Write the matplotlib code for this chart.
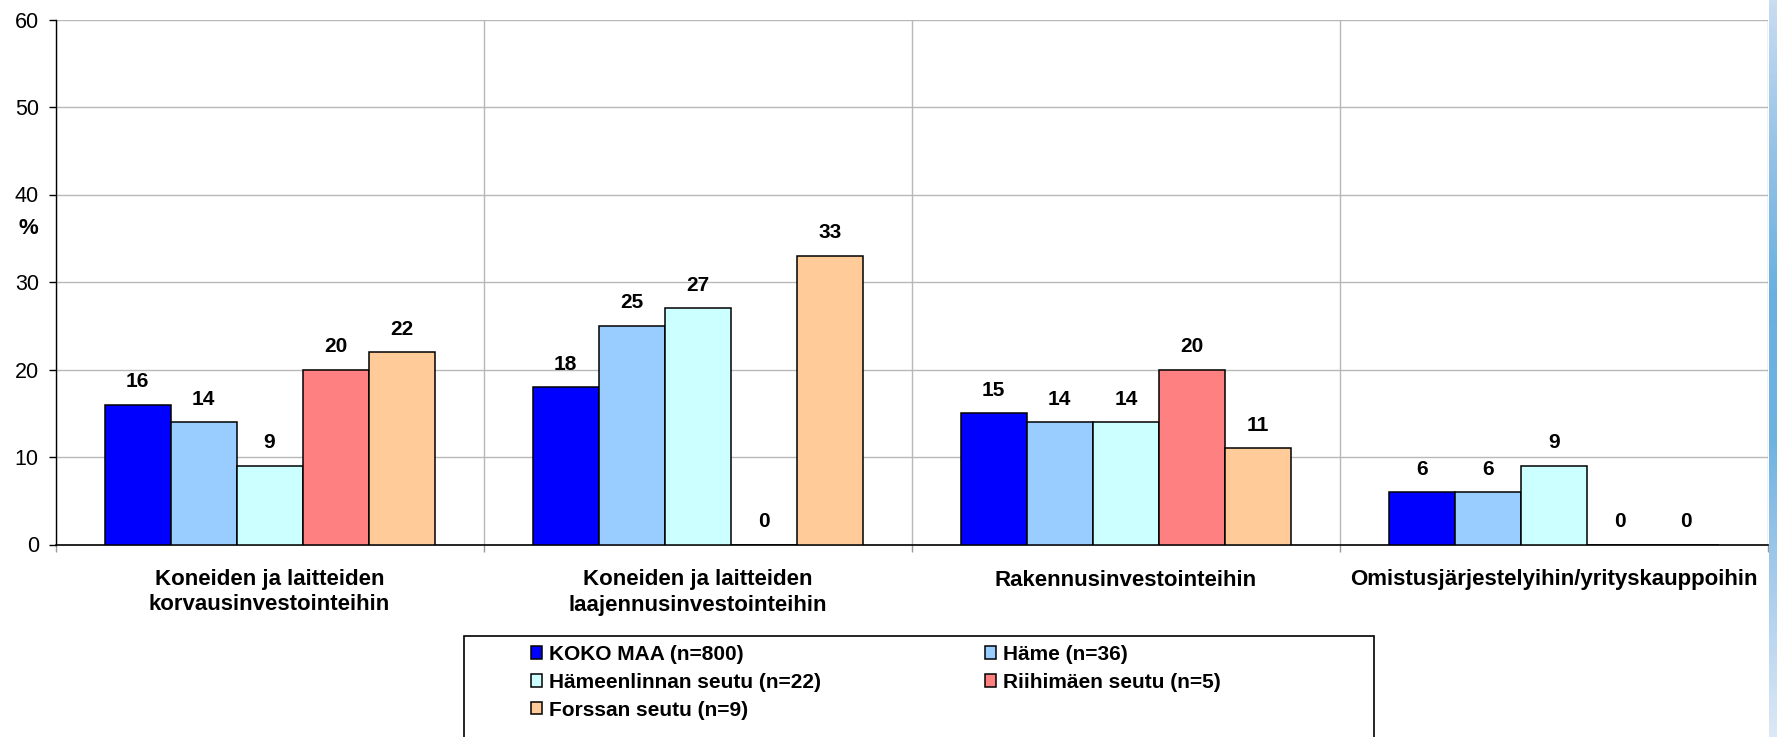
import matplotlib.pyplot as plt
from matplotlib import patches
import numpy as np

categories = ['Koneiden ja laitteiden\nkorvausinvestointeihin',
              'Koneiden ja laitteiden\nlaajennusinvestointeihin',
              'Rakennusinvestointeihin',
              'Omistusjärjestelyihin/yrityskauppoihin']
series = ['KOKO MAA (n=800)', 'Häme (n=36)', 'Hämeenlinnan seutu (n=22)',
          'Riihimäen seutu (n=5)', 'Forssan seutu (n=9)']
koko_maa = [16, 18, 15, 6]
hame = [14, 25, 14, 6]
hameenlinna = [9, 27, 14, 9]
riihimaki = [20, 0, 20, 0]
forssa = [22, 33, 11, 0]
values = [koko_maa, hame, hameenlinna, riihimaki, forssa]
colors = ['#0000FF', '#99CCFF', '#CCFFFF', '#FF8080', '#FFCC99']
yticks = [0, 10, 20, 30, 40, 50, 60]

W, H = 1777, 737
fig = plt.figure(figsize=(W / 100, H / 100), dpi=100)
plt.rcParams['font.family'] = ['Liberation Sans', 'DejaVu Sans']

ax = fig.add_axes([55.5 / W, 1 - 544.5 / H, (1768 - 55.5) / W, (544.5 - 19.5) / H])

x = np.arange(len(categories))
bw = 66 / 428
handles = []
for i, (name, vals, c) in enumerate(zip(series, values, colors)):
    b = ax.bar(x + (i - 2) * bw, vals, width=bw, color=c, edgecolor='black',
               linewidth=1.1, label=name, zorder=3)
    handles.append(b)
    for xi, v in zip(x + (i - 2) * bw, vals):
        ax.annotate(str(v), xy=(xi, v), xytext=(0, 12.5), textcoords='offset points',
                    ha='center', va='baseline', fontsize=15, fontweight='bold')

ax.set_xlim(-0.5, len(categories) - 0.5)
ax.set_ylim(0, 60)
ax.set_yticks(yticks)
ax.tick_params(axis='y', labelsize=15.5, length=5, width=1, pad=7, direction='out')
ax.yaxis.grid(True, color='#b8b8b8', linewidth=1, zorder=0)

ax.set_xticks(x)
ax.set_xticklabels(categories, fontsize=16, fontweight='bold')
ax.tick_params(axis='x', which='major', length=0, pad=18)
ax.set_xticks(np.arange(-0.5, len(categories)), minor=True)
ax.tick_params(axis='x', which='minor', length=5, width=1, color='#999999', direction='out')
ax.xaxis.grid(True, which='minor', color='#b8b8b8', linewidth=1, zorder=0)
for lab in ax.get_xticklabels():
    lab.set_linespacing(1.25)

ax.spines['top'].set_visible(False)
ax.spines['right'].set_visible(False)
ax.spines['left'].set_linewidth(1)
ax.spines['bottom'].set_linewidth(1.2)
ax.set_axisbelow(True)

fig.text(28 / W, 1 - 229 / H, '%', fontsize=16, fontweight='bold', ha='center', va='center')

# legend: two columns, read row-wise
leg_kw = dict(loc='upper left', frameon=False, borderpad=0, borderaxespad=0,
              handlelength=0.55, handleheight=0.55, handletextpad=0.3, labelspacing=0.42,
              prop={'weight': 'bold', 'size': 15})
col1 = [0, 2, 4]
col2 = [1, 3]
leg1 = fig.legend([handles[k] for k in col1], [series[k] for k in col1],
                  bbox_to_anchor=(531 / W, 1 - 645 / H), **leg_kw)
leg2 = fig.legend([handles[k] for k in col2], [series[k] for k in col2],
                  bbox_to_anchor=(985 / W, 1 - 645 / H), **leg_kw)
fig.add_artist(patches.Rectangle((464 / W, -0.05), (1374 - 464) / W, 1.05 - 636 / H,
                                 transform=fig.transFigure, fill=False,
                                 edgecolor='black', linewidth=1.2, clip_on=False))

# right-hand decorative gradient strip
sx = fig.add_axes([1769 / W, 0, 8 / W, 1])
stops = np.array([[200, 220, 242], [150, 195, 232], [105, 176, 225],
                  [110, 178, 226], [170, 205, 237], [220, 232, 246]]) / 255
pos = np.linspace(0, 1, len(stops))
t = np.linspace(0, 1, 200)
grad = np.stack([np.interp(t, pos, stops[:, k]) for k in range(3)], axis=-1)
sx.imshow(grad[:, None, :], aspect='auto', extent=(0, 1, 1, 0))
sx.axis('off')

fig.savefig('out.png', dpi=100)
